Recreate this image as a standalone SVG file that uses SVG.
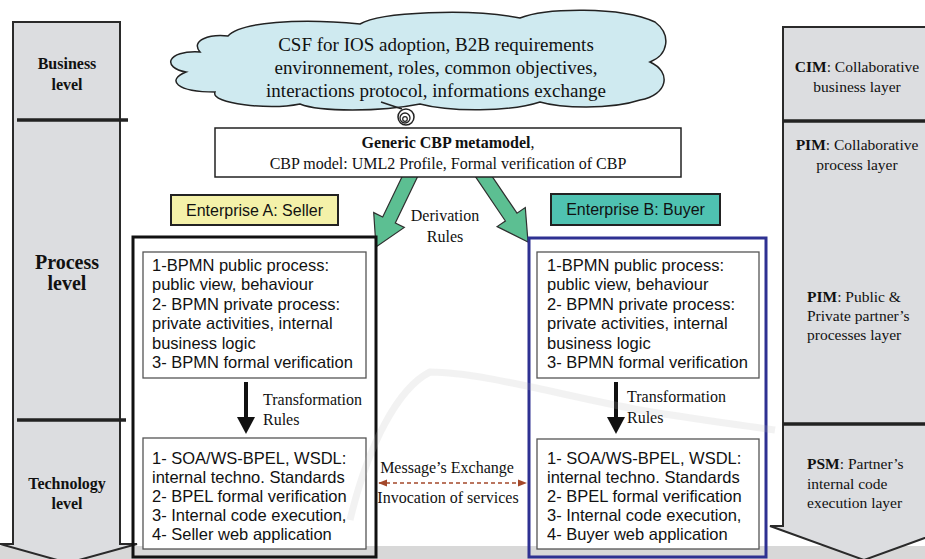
<svg xmlns="http://www.w3.org/2000/svg" width="925" height="559" viewBox="0 0 925 559">
<style>
.serif{font-family:"Liberation Serif","Times New Roman",serif;fill:#111}
.sans{font-family:"Liberation Sans",Arial,sans-serif;fill:#111}
.col{fill:#dcdde0;stroke:#2a2a2a;stroke-width:2}
.div{stroke:#222;stroke-width:3.5}
.inner{fill:#fff;stroke:#555;stroke-width:1.3}
.lvl{font-size:16px;font-weight:bold;text-anchor:middle}
.rtxt{font-size:15.5px}
.bx{font-size:16.5px}
.tr{font-size:16px}
.green{fill:#5cbf92;stroke:#2f2f2f;stroke-width:1.2}
</style>
<defs>
<marker id="brown" viewBox="0 0 10 10" refX="9" refY="5" markerWidth="6" markerHeight="6" orient="auto-start-reverse"><path d="M0,1 L10,5 L0,9 Z" fill="#a4482a"/></marker>
</defs>
<rect width="925" height="559" fill="#fff"/>
<g id="watermark-band"><rect x="0" y="546" width="925" height="13" fill="#d8d8d8"/></g>

<g id="business-level-column">
<path class="col" d="M13,22 H120 V544 L137,544 L68,563 L0,544 L13,544 Z"/>
<line class="div" x1="17" y1="120" x2="128" y2="120"/>
<line class="div" x1="17" y1="420" x2="126" y2="420"/>
<text class="serif lvl" x="67" y="69">Business</text>
<text class="serif lvl" x="67" y="90">level</text>
<text class="serif lvl" x="67" y="269" style="font-size:20px">Process</text>
<text class="serif lvl" x="67" y="290" style="font-size:20px">level</text>
<text class="serif lvl" x="67" y="489">Technology</text>
<text class="serif lvl" x="67" y="509">level</text>
</g>

<g id="mda-column">
<path class="col" d="M783,27 H945 V526 L958,526 L864,560 L770,526 L783,526 Z"/>
<line class="div" x1="783" y1="121" x2="925" y2="121"/>
<line class="div" x1="783" y1="424" x2="925" y2="424"/>
<text class="serif rtxt" x="857" y="72" text-anchor="middle"><tspan font-weight="bold">CIM</tspan>: Collaborative</text>
<text class="serif rtxt" x="857" y="92" text-anchor="middle">business layer</text>
<text class="serif rtxt" x="857" y="150" text-anchor="middle"><tspan font-weight="bold">PIM</tspan>: Collaborative</text>
<text class="serif rtxt" x="857" y="170" text-anchor="middle">process layer</text>
<text class="serif rtxt" x="807" y="302"><tspan font-weight="bold">PIM</tspan>:  Public &amp;</text>
<text class="serif rtxt" x="807" y="321">Private  partner’s</text>
<text class="serif rtxt" x="807" y="340">processes layer</text>
<text class="serif rtxt" x="807" y="469"><tspan font-weight="bold">PSM</tspan>: Partner’s</text>
<text class="serif rtxt" x="807" y="489">internal code</text>
<text class="serif rtxt" x="807" y="508">execution layer</text>
</g>

<g id="connectors">
<polygon class="green" points="407.7,165 420.3,171 395.3,223 404.3,227.4 376,247 373.7,212.6 382.7,217"/>
<polygon class="green" points="472.2,171.9 483.8,164.1 517,213.2 525.3,207.6 528,242 497.1,226.6 505.4,221"/>
<line x1="246" y1="382" x2="246" y2="420" stroke="#111" stroke-width="4"/>
<polygon points="237,417 255,417 246,434" fill="#111"/>
<line x1="616" y1="382" x2="616" y2="420" stroke="#111" stroke-width="4"/>
<polygon points="607,417 625,417 616,434" fill="#111"/>
<line x1="379" y1="483" x2="526" y2="483" stroke="#a4482a" stroke-width="1.5" stroke-dasharray="4 3" marker-start="url(#brown)" marker-end="url(#brown)"/>
<text class="serif tr" x="445" y="221" text-anchor="middle">Derivation</text>
<text class="serif tr" x="445" y="242" text-anchor="middle">Rules</text>
<text class="serif tr" x="263" y="405">Transformation</text>
<text class="serif tr" x="263" y="425">Rules</text>
<text class="serif tr" x="627" y="402">Transformation</text>
<text class="serif tr" x="627" y="423">Rules</text>
<text class="serif tr" x="447" y="473" text-anchor="middle">Message’s Exchange</text>
<text class="serif tr" x="448" y="503" text-anchor="middle">Invocation of services</text>
</g>

<g id="cloud">
<path d="M228,36 C240,22 300,18 360,24 C380,12 470,8 520,18 C545,8 620,6 655,22 C672,35 668,55 650,62 C672,72 668,95 640,100 C610,110 560,108 540,102 C510,112 450,112 420,104 C380,112 320,112 300,104 C270,110 210,104 215,92 C176,92 166,80 186,72 C162,68 166,50 200,52 C190,40 210,34 228,36 Z" fill="#cfeaf0" stroke="#222" stroke-width="1.5"/>
<line x1="381" y1="102" x2="402" y2="109" stroke="#222" stroke-width="1.5"/>
<circle cx="406" cy="117" r="8" fill="#fff" stroke="#222" stroke-width="1.5"/>
<circle cx="405" cy="118" r="5" fill="none" stroke="#222" stroke-width="1.3"/>
<circle cx="405" cy="119" r="2.3" fill="none" stroke="#222" stroke-width="1.2"/>
<text class="serif" font-size="19" x="436" y="51" text-anchor="middle">CSF for IOS adoption, B2B requirements</text>
<text class="serif" font-size="19" x="436" y="74" text-anchor="middle">environnement, roles, common objectives,</text>
<text class="serif" font-size="19" x="436" y="97" text-anchor="middle">interactions protocol, informations exchange</text>
</g>

<g id="generic-cbp">
<rect x="215" y="128" width="466" height="49" fill="#fff" stroke="#222" stroke-width="1.5"/>
<text class="serif" font-size="16" x="448" y="148" text-anchor="middle"><tspan font-weight="bold">Generic CBP metamodel</tspan>,</text>
<text class="serif" font-size="16" x="448" y="169" text-anchor="middle">CBP model: UML2 Profile, Formal  verification  of CBP</text>
</g>

<g id="enterprise-a-label">
<rect x="171" y="195" width="167" height="30" fill="#f4f1a9" stroke="#222" stroke-width="2"/>
<text class="sans" font-size="16" x="254.5" y="216" text-anchor="middle">Enterprise A: Seller</text>
</g>
<g id="enterprise-b-label">
<rect x="551" y="194" width="169" height="31" fill="#4fc2b1" stroke="#222" stroke-width="2"/>
<text class="sans" font-size="16" x="635.5" y="215" text-anchor="middle">Enterprise B: Buyer</text>
</g>

<g id="enterprise-a">
<rect x="133" y="237" width="243" height="320" fill="none" stroke="#111" stroke-width="3"/>
</g>
<g id="enterprise-b">
<rect x="529" y="238" width="237" height="319" fill="none" stroke="#2e3192" stroke-width="3"/>
</g>

<g id="seller-bpmn">
<rect class="inner" x="143" y="252" width="223" height="126"/>
<text class="sans bx" x="152" y="271">1-BPMN public process:</text>
<text class="sans bx" x="152" y="290">public view,  behaviour</text>
<text class="sans bx" x="152" y="310">2- BPMN  private process:</text>
<text class="sans bx" x="152" y="329">private activities, internal</text>
<text class="sans bx" x="152" y="349">business logic</text>
<text class="sans bx" x="152" y="368">3- BPMN  formal verification</text>
</g>
<g id="seller-tech">
<rect class="inner" x="143" y="438" width="223" height="111"/>
<text class="sans bx" x="152" y="464">1- SOA/WS-BPEL, WSDL:</text>
<text class="sans bx" x="152" y="483">internal techno. Standards</text>
<text class="sans bx" x="152" y="502">2- BPEL formal verification</text>
<text class="sans bx" x="152" y="521">3- Internal code execution,</text>
<text class="sans bx" x="152" y="540">4- Seller web application</text>
</g>
<g id="buyer-bpmn">
<rect class="inner" x="537" y="252" width="222" height="126"/>
<text class="sans bx" x="547" y="271">1-BPMN public process:</text>
<text class="sans bx" x="547" y="290">public view,  behaviour</text>
<text class="sans bx" x="547" y="310">2- BPMN  private process:</text>
<text class="sans bx" x="547" y="329">private activities, internal</text>
<text class="sans bx" x="547" y="349">business logic</text>
<text class="sans bx" x="547" y="368">3- BPMN  formal verification</text>
</g>
<g id="buyer-tech">
<rect class="inner" x="537" y="439" width="222" height="110"/>
<text class="sans bx" x="547" y="464">1- SOA/WS-BPEL, WSDL:</text>
<text class="sans bx" x="547" y="483">internal techno. Standards</text>
<text class="sans bx" x="547" y="502">2- BPEL formal verification</text>
<text class="sans bx" x="547" y="521">3- Internal code execution,</text>
<text class="sans bx" x="547" y="540">4- Buyer  web application</text>
</g>

<g id="watermark-arc" opacity="0.18">
<path d="M350,520 C368,445 398,388 430,372 C480,372 560,395 640,410 C700,420 740,425 775,430" fill="none" stroke="#b8b8b8" stroke-width="7"/>
</g>
</svg>
